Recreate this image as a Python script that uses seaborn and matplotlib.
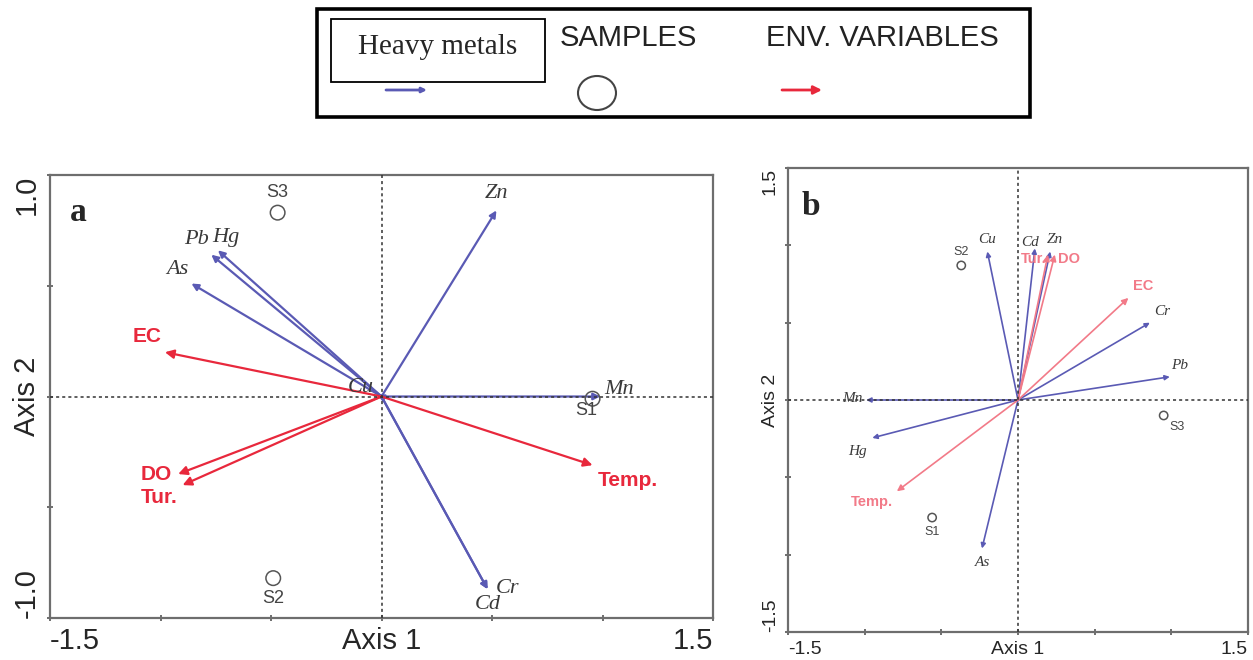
import numpy as np
import pandas as pd
import seaborn as sns
import matplotlib.pyplot as plt
from matplotlib.patches import Rectangle, Ellipse

# Panel a: heavy metals (blue arrows)
metals_a = ['Zn', 'Mn', 'Pb', 'Hg', 'As', 'Cr', 'Cd', 'Cu']
metals_a_x = [0.52, 0.99, -0.77, -0.74, -0.86, 0.48, 0.48, -0.02]
metals_a_y = [0.84, 0.0, 0.64, 0.66, 0.51, -0.87, -0.87, 0.01]

# Panel a: environmental variables (red arrows)
env_a = ['EC', 'DO', 'Tur.', 'Temp.']
env_a_x = [-0.98, -0.92, -0.90, 0.955]
env_a_y = [0.20, -0.35, -0.40, -0.31]

# Panel a: samples
samples_a = ['S1', 'S2', 'S3']
samples_a_x = [0.955, -0.49, -0.47]
samples_a_y = [-0.01, -0.82, 0.83]

# Panel b
metals_b = ['Cu', 'Cd', 'Zn', 'Cr', 'Pb', 'Mn', 'Hg', 'As']
metals_b_x = [-0.20, 0.11, 0.21, 0.86, 0.99, -0.99, -0.95, -0.235]
metals_b_y = [0.96, 0.98, 0.96, 0.50, 0.15, 0.0, -0.245, -0.96]

env_b = ['Tur.', 'DO', 'EC', 'Temp.']
env_b_x = [0.195, 0.24, 0.72, -0.79]
env_b_y = [0.94, 0.94, 0.66, -0.59]

samples_b = ['S1', 'S2', 'S3']
samples_b_x = [-0.56, -0.37, 0.95]
samples_b_y = [-0.76, 0.87, -0.10]

# label offsets in pixels (dx, dy, ha)
off_a = {'Zn': (0, 17, 'center'), 'Mn': (4, 7, 'left'), 'Pb': (-15, 15, 'center'),
         'Hg': (8, 13, 'center'), 'As': (-14, 14, 'center'), 'Cr': (20, 1, 'center'),
         'Cd': (0, -15, 'center'), 'Cu': (-16, 7, 'center'),
         'EC': (-18, 16, 'center'), 'DO': (-6, 0, 'right'), 'Tur.': (-5, -12, 'right'),
         'Temp.': (5, -15, 'left'),
         'S1': (-6, -12, 'center'), 'S2': (0, -20, 'center'), 'S3': (0, 20, 'center')}
off_b = {'Cu': (0, 12, 'center'), 'Cd': (-5, 6, 'center'), 'Zn': (5, 12, 'center'),
         'Cr': (12, 11, 'center'), 'Pb': (10, 11, 'center'), 'Mn': (-4, 2, 'right'),
         'Hg': (-15, -14, 'center'), 'As': (0, -14, 'center'),
         'Tur.': (-1, -4, 'right'), 'DO': (3, -4, 'left'), 'EC': (15, 12, 'center'),
         'Temp.': (-25, -11, 'center'),
         'S1': (0, -14, 'center'), 'S2': (0, 13, 'center'), 'S3': (13, -12, 'center')}

BLUE = '#5a5ab4'
RED_A = '#e8283c'
RED_B = '#f27a88'
GREY = '#555555'

sns.set_style('white')
fig = plt.figure(figsize=(12.53, 6.6), dpi=100)


def draw_panel(ax, lim, mx, my, mnames, ex, ey, enames, sx, sy, snames, off, red,
               fs_axis, fs_metal, fs_env, fs_samp, msize, lw, ms, letter, ticklabels_y):
    ax.set_xlim(-1.5, 1.5)
    ax.set_ylim(-lim, lim)
    ax.axhline(0, color='#333333', ls=(0, (2, 2)), lw=1.1, zorder=3)
    ax.axvline(0, color='#333333', ls=(0, (2, 2)), lw=1.1, zorder=3)

    for name, x, y in zip(mnames, mx, my):
        ax.annotate('', xy=(x, y), xytext=(0, 0),
                    arrowprops=dict(arrowstyle='-|>', color=BLUE, lw=lw,
                                    mutation_scale=ms, shrinkA=0, shrinkB=0), zorder=2)
        dx, dy, ha = off[name]
        ax.annotate(name, xy=(x, y), xytext=(dx, dy), textcoords='offset pixels',
                    ha=ha, va='center', fontsize=fs_metal, style='italic',
                    family='Liberation Serif', color='#3a3a3a', zorder=5)

    for name, x, y in zip(enames, ex, ey):
        ax.annotate('', xy=(x, y), xytext=(0, 0),
                    arrowprops=dict(arrowstyle='-|>', color=red, lw=lw,
                                    mutation_scale=ms * 1.3, shrinkA=0, shrinkB=0), zorder=2)
        dx, dy, ha = off[name]
        ax.annotate(name, xy=(x, y), xytext=(dx, dy), textcoords='offset pixels',
                    ha=ha, va='center', fontsize=fs_env, fontweight='bold',
                    family='Liberation Sans', color=red, zorder=5)

    df = pd.DataFrame({'x': sx, 'y': sy, 'name': snames})
    sns.scatterplot(data=df, x='x', y='y', ax=ax, marker='o', s=msize,
                    facecolor='none', edgecolor=GREY, linewidth=1.1, zorder=4)
    for name, x, y in zip(snames, sx, sy):
        dx, dy, ha = off[name]
        ax.annotate(name, xy=(x, y), xytext=(dx, dy), textcoords='offset pixels',
                    ha=ha, va='center', fontsize=fs_samp, family='Liberation Sans',
                    color='#444444', zorder=5)

    ax.set_xticks([-1.5, -1.0, -0.5, 0, 0.5, 1.0, 1.5])
    ax.set_xticklabels(['-1.5', '', '', 'Axis 1', '', '', '1.5'])
    yt = np.linspace(-lim, lim, 5) if lim == 1.0 else [-1.5, -1.0, -0.5, 0, 0.5, 1.0, 1.5]
    ax.set_yticks(yt)
    ax.set_yticklabels(ticklabels_y, rotation=90, va='center')
    ax.set_xlabel('')
    ax.set_ylabel('')
    ax.tick_params(direction='inout', length=5, width=1.2, color=GREY,
                   labelsize=fs_axis, pad=4, bottom=True, left=True)
    xl = ax.get_xticklabels()
    yl = ax.get_yticklabels()
    for lab in xl + yl:
        lab.set_family('Liberation Sans')
    # end labels sit inside the axis range, as in the original
    xl[0].set_ha('left')
    xl[-1].set_ha('right')
    yl[0].set_va('bottom')
    yl[-1].set_va('top')
    for sp in ax.spines.values():
        sp.set_color('#6e6e6e')
        sp.set_linewidth(1.6)
    ax.text(0.03, 0.95, letter, transform=ax.transAxes, fontsize=24,
            fontweight='bold', family='Liberation Serif', va='top', ha='left')


ax_a = fig.add_axes([50 / 1253, 1 - 618 / 660, 663 / 1253, 443 / 660])
draw_panel(ax_a, 1.0, metals_a_x, metals_a_y, metals_a, env_a_x, env_a_y, env_a,
           samples_a_x, samples_a_y, samples_a, off_a, RED_A,
           fs_axis=21, fs_metal=16, fs_env=15, fs_samp=13, msize=110, lw=1.6, ms=10,
           letter='a', ticklabels_y=['-1.0', '', 'Axis 2', '', '1.0'])

ax_b = fig.add_axes([788 / 1253, 1 - 632 / 660, 460 / 1253, 464 / 660])
draw_panel(ax_b, 1.5, metals_b_x, metals_b_y, metals_b, env_b_x, env_b_y, env_b,
           samples_b_x, samples_b_y, samples_b, off_b, RED_B,
           fs_axis=14, fs_metal=11, fs_env=10.5, fs_samp=9, msize=36, lw=1.2, ms=7,
           letter='b', ticklabels_y=['-1.5', '', '', 'Axis 2', '', '', '1.5'])

# legend drawn in pixel coordinates on an overlay
lg = fig.add_axes([0, 0, 1, 1], facecolor='none')
lg.set_xlim(0, 1253)
lg.set_ylim(660, 0)
lg.axis('off')
lg.add_patch(Rectangle((317, 9), 713, 108, fill=False, ec='black', lw=2.6))
lg.add_patch(Rectangle((331, 19), 214, 63, fill=False, ec='black', lw=1.3))
lg.text(438, 47, 'Heavy metals', fontsize=21, family='Liberation Serif',
        ha='center', va='center')
lg.text(628, 38, 'SAMPLES', fontsize=21, family='Liberation Sans',
        ha='center', va='center', color='#222222')
lg.text(882, 38, 'ENV. VARIABLES', fontsize=21, family='Liberation Sans',
        ha='center', va='center', color='#222222')
lg.annotate('', xy=(427, 90), xytext=(386, 90),
            arrowprops=dict(arrowstyle='-|>', color=BLUE, lw=2, mutation_scale=7,
                            shrinkA=0, shrinkB=0))
lg.add_patch(Ellipse((597, 93), 38, 34, fill=False, ec='#444444', lw=1.5))
lg.annotate('', xy=(822, 90), xytext=(782, 90),
            arrowprops=dict(arrowstyle='-|>', color=RED_A, lw=2, mutation_scale=12,
                            shrinkA=0, shrinkB=0))

fig.savefig('out.png', dpi=100)
